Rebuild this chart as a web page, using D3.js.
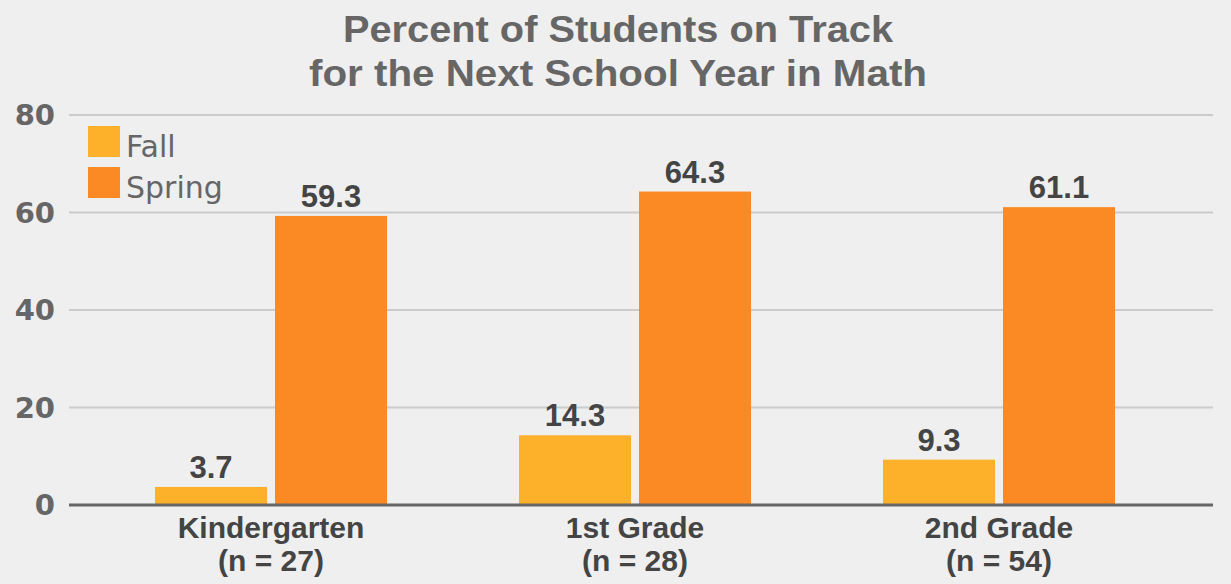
<!DOCTYPE html>
<html><head><meta charset="utf-8">
<script src="https://cdn.jsdelivr.net/npm/d3@7"></script>
<style>html,body{margin:0;padding:0;background:#efefef;}svg{display:block;}</style>
</head><body>
<svg id="chart" width="1231" height="584"></svg>
<script>
const categories = ["Kindergarten", "1st Grade", "2nd Grade"];
const categorySizes = ["(n = 27)", "(n = 28)", "(n = 54)"];
const seriesNames = ["Fall", "Spring"];
const fallValues = [3.7, 14.3, 9.3];
const springValues = [59.3, 64.3, 61.1];
const yTicks = [0, 20, 40, 60, 80];
const titleLines = ["Percent of Students on Track", "for the Next School Year in Math"];

const colors = {Fall: "#fdb02a", Spring: "#fc8a24"};
const seriesValues = {Fall: fallValues, Spring: springValues};
const font = "'Liberation Sans', Arial, sans-serif";
const wideFont = "'DejaVu Sans', sans-serif";

const svg = d3.select("#chart");
svg.append("rect").attr("width", 1231).attr("height", 584).attr("fill", "#efefef");

const y = d3.scaleLinear().domain([0, 80]).range([505, 115]);
const x0 = d3.scaleBand().domain(categories).range([89, 1181]).paddingInner(0.3626).paddingOuter(0.1813);
const x1 = d3.scaleBand().domain(seriesNames).range([0, x0.bandwidth()]).paddingInner(0.0667).paddingOuter(0);

// gridlines
svg.append("g").selectAll("line").data(yTicks.filter(t => t > 0)).join("line")
  .attr("x1", 69).attr("x2", 1213)
  .attr("y1", d => y(d)).attr("y2", d => y(d))
  .attr("stroke", "#c9cbcd").attr("stroke-width", 2);

// y tick labels
svg.append("g").selectAll("text").data(yTicks).join("text")
  .attr("x", 55).attr("y", d => y(d)).attr("dy", "0.36em")
  .attr("text-anchor", "end")
  .attr("font-family", wideFont).attr("font-weight", "bold").attr("font-size", 29)
  .attr("fill", "#666666").text(d => d);

// bars
const groups = svg.append("g").selectAll("g").data(categories).join("g")
  .attr("transform", d => `translate(${x0(d)},0)`);
groups.selectAll("rect").data((c, i) => seriesNames.map(s => ({s, v: seriesValues[s][i]}))).join("rect")
  .attr("x", d => x1(d.s)).attr("width", x1.bandwidth())
  .attr("y", d => y(d.v)).attr("height", d => y(0) - y(d.v))
  .attr("fill", d => colors[d.s]);
groups.selectAll("text.val").data((c, i) => seriesNames.map(s => ({s, v: seriesValues[s][i]}))).join("text")
  .attr("class", "val")
  .attr("x", d => x1(d.s) + x1.bandwidth() / 2).attr("y", d => y(d.v) - 9)
  .attr("text-anchor", "middle")
  .attr("font-family", font).attr("font-weight", "bold").attr("font-size", 31)
  .attr("fill", "#444444").text(d => d.v.toFixed(1));

// baseline
svg.append("line").attr("x1", 69).attr("x2", 1213).attr("y1", y(0)).attr("y2", y(0))
  .attr("stroke", "#666666").attr("stroke-width", 3);

// category labels
const cl = svg.append("g").selectAll("text").data(categories).join("text")
  .attr("x", d => x0(d) + x0.bandwidth() / 2)
  .attr("text-anchor", "middle")
  .attr("font-family", font).attr("font-weight", "bold").attr("font-size", 30)
  .attr("fill", "#444444");
cl.append("tspan").attr("x", d => x0(d) + x0.bandwidth() / 2).attr("y", 538).text(d => d);
cl.append("tspan").attr("x", d => x0(d) + x0.bandwidth() / 2).attr("y", 571).text((d, i) => categorySizes[i]);

// title
svg.append("g").selectAll("text").data(titleLines).join("text")
  .attr("x", 618).attr("y", (d, i) => 42 + i * 44)
  .attr("text-anchor", "middle")
  .attr("font-family", font).attr("font-weight", "bold").attr("font-size", 37)
  .attr("fill", "#666666")
  .attr("textLength", (d, i) => [550, 618][i]).attr("lengthAdjust", "spacingAndGlyphs")
  .text(d => d);

// legend
const lg = svg.append("g").selectAll("g").data(seriesNames).join("g")
  .attr("transform", (d, i) => `translate(88,${126 + i * 41})`);
lg.append("rect").attr("width", 32).attr("height", 31).attr("fill", d => colors[d]);
lg.append("text").attr("x", 38).attr("y", 31)
  .attr("font-family", wideFont).attr("font-size", 30)
  .attr("fill", "#666666").text(d => d);
</script>
</body></html>
